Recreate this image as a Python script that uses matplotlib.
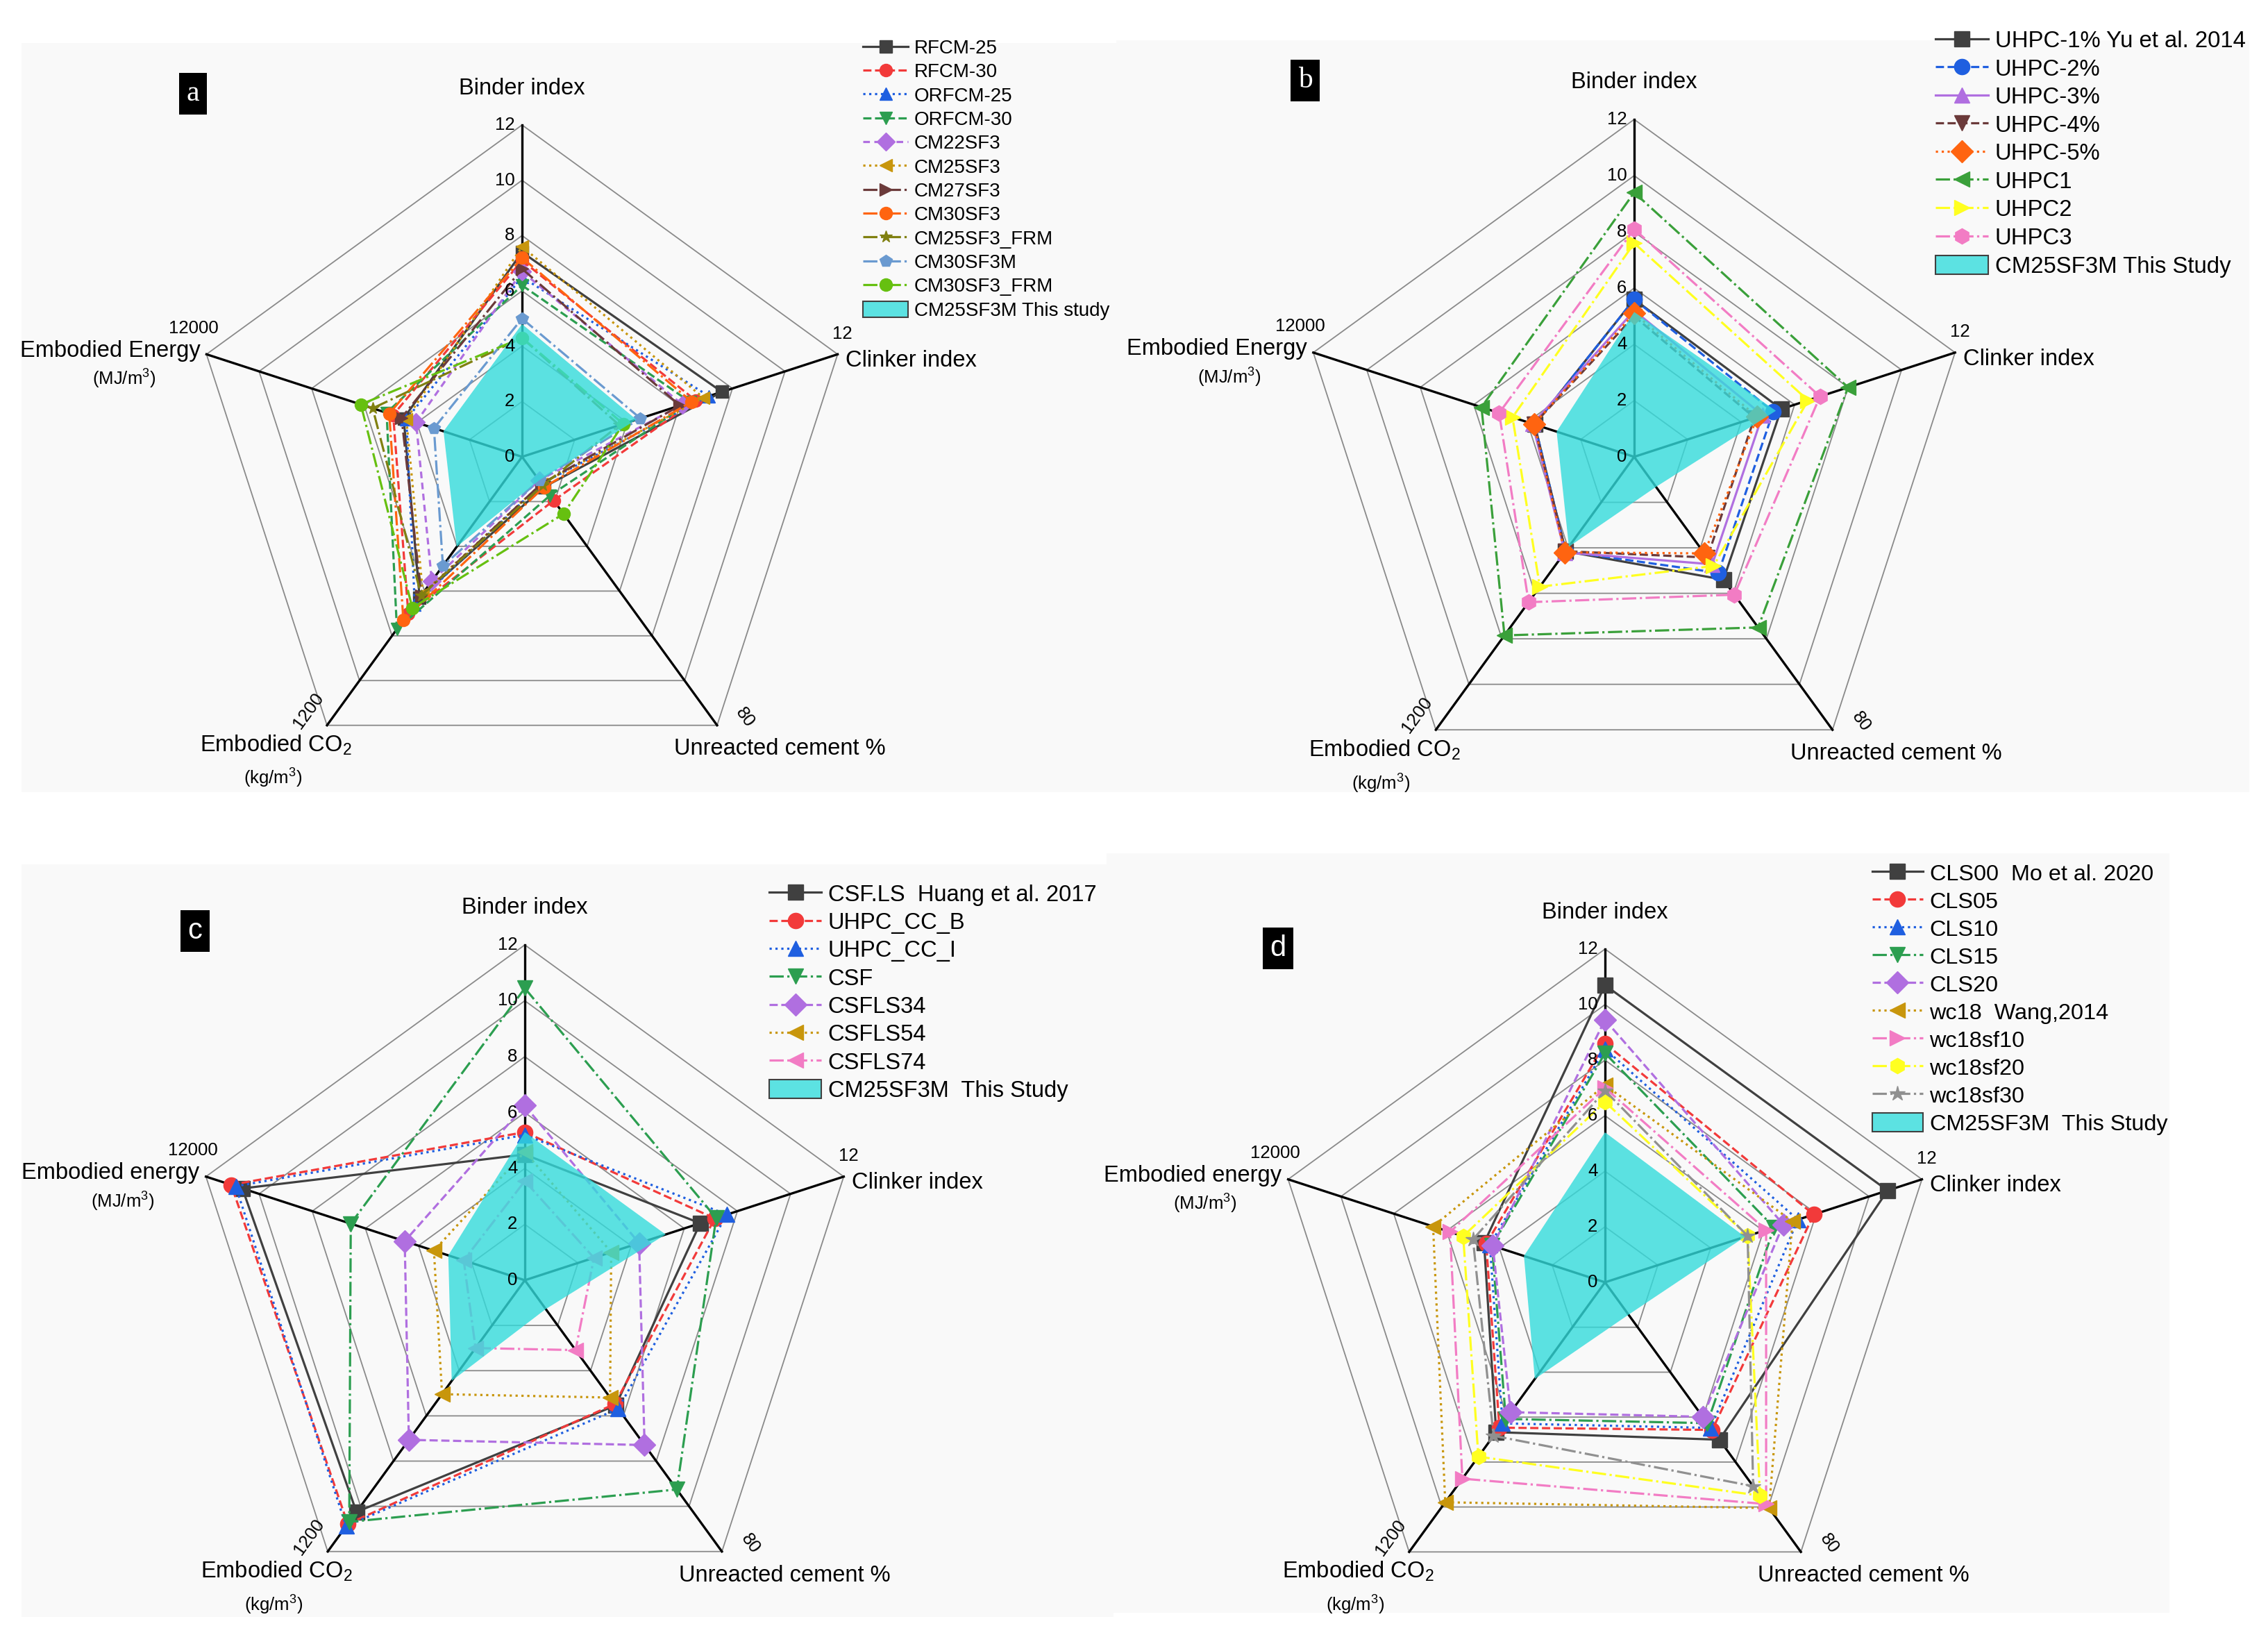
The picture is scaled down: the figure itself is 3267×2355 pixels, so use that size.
import numpy as np
import matplotlib
matplotlib.use('Agg')
import matplotlib.pyplot as plt
from matplotlib.lines import Line2D
from matplotlib.patches import Patch, Rectangle

plt.rcParams['font.family'] = 'Liberation Sans'
plt.rcParams['mathtext.fontset'] = 'custom'
plt.rcParams['mathtext.rm'] = 'Liberation Sans'
plt.rcParams['mathtext.it'] = 'Liberation Sans:italic'

W, H = 3267, 2355

# axis order: Binder index, Clinker index, Unreacted cement %, Embodied CO2, Embodied energy
axis_max = np.array([12, 12, 80, 1200, 12000])
binder_ticks = [0, 2, 4, 6, 8, 10, 12]

# ---- panel a
a_names = ['RFCM-25', 'RFCM-30', 'ORFCM-25', 'ORFCM-30', 'CM22SF3', 'CM25SF3',
           'CM27SF3', 'CM30SF3', 'CM25SF3_FRM', 'CM30SF3M', 'CM30SF3_FRM']
a_values = [[7.4, 7.6, 9, 630, 4500],
            [7.1, 6.6, 13, 700, 4900],
            [6.5, 7.1, 8, 660, 4400],
            [6.2, 6.4, 11.5, 770, 5150],
            [6.7, 6.1, 7, 555, 4030],
            [7.6, 6.9, 8, 610, 4400],
            [6.8, 6.0, 8, 620, 4580],
            [7.2, 6.45, 9, 730, 5050],
            [4.3, 3.7, 8.5, 620, 5680],
            [5.0, 4.5, 7, 487, 3350],
            [4.3, 3.85, 17, 675, 6130]]
a_study = [4.8, 4.35, 7, 402, 2985]
a_study_label = 'CM25SF3M This study'

# ---- panel b
b_names = ['UHPC-1% Yu et al. 2014', 'UHPC-2%', 'UHPC-3%', 'UHPC-4%', 'UHPC-5%',
           'UHPC1', 'UHPC2', 'UHPC3']
b_values = [[5.6, 5.5, 36, 415, 3720],
            [5.6, 5.2, 34, 415, 3720],
            [5.2, 4.8, 31.5, 420, 3800],
            [5.0, 4.5, 29.5, 415, 3750],
            [5.1, 4.6, 28.3, 420, 3750],
            [9.4, 8.0, 50, 785, 5710],
            [7.6, 6.5, 32, 571, 4550],
            [8.1, 6.95, 40.4, 639, 5050]]
b_study = [5.15, 5.3, 8.8, 395, 2900]
b_study_label = 'CM25SF3M This Study'

# ---- panel c
c_names = ['CSF.LS  Huang et al. 2017', 'UHPC_CC_B', 'UHPC_CC_I', 'CSF',
           'CSFLS34', 'CSFLS54', 'CSFLS74']
c_values = [[4.5, 6.6, 36.9, 1025, 10630],
            [5.3, 7.15, 36.5, 1078, 11050],
            [5.2, 7.6, 37.9, 1088, 10880],
            [10.45, 7.2, 61.7, 1069, 6550],
            [6.25, 4.3, 48.6, 706, 4520],
            [4.6, 3.25, 34.6, 504, 3420],
            [3.55, 2.6, 20.6, 300, 2300]]
c_study = [5.3, 5.3, 8.5, 445, 2880]
c_study_label = 'CM25SF3M  This Study'

# ---- panel d
d_names = ['CLS00  Mo et al. 2020', 'CLS05', 'CLS10', 'CLS15', 'CLS20',
           'wc18  Wang,2014', 'wc18sf10', 'wc18sf20', 'wc18sf30']
d_values = [[10.7, 10.7, 46.7, 667, 4580],
            [8.6, 7.9, 43.8, 647, 4500],
            [8.4, 7.3, 43.2, 628, 4360],
            [8.25, 6.4, 41.8, 608, 4280],
            [9.45, 6.75, 39.9, 578, 4250],
            [7.1, 7.1, 67, 979, 6510],
            [7.0, 6.1, 65.8, 874, 5870],
            [6.5, 5.4, 63.3, 776, 5370],
            [6.9, 5.4, 60.5, 683, 5000]]
d_study = [5.4, 5.3, 9.6, 430, 3070]
d_study_label = 'CM25SF3M  This Study'

# styles
GREY, RED, BLUE, GREEN = '#404040', '#f23a3a', '#1f5fe0', '#2c9e50'
PURPLE, GOLD, BROWN, ORANGE = '#b06fe0', '#c8960c', '#6b3a3a', '#ff6410'
a_colors = [GREY, RED, BLUE, GREEN, PURPLE, GOLD, BROWN, ORANGE, '#808010', '#6a9ad0', '#66c010']
a_markers = ['s', 'o', '^', 'v', 'D', '<', '>', 'o', '*', 'p', 'o']
a_styles = ['-', '--', ':', '--', (0, (3, 2)), ':', '-.', '-.', '-.', '-.', '-.']

b_colors = [GREY, BLUE, PURPLE, BROWN, ORANGE, '#3aa03a', '#ffff20', '#f27cc4']
b_markers = ['s', 'o', '^', 'v', 'D', '<', '>', 'h']
b_styles = ['-', '--', '-', '--', ':', '-.', '-.', '-.']

c_colors = [GREY, RED, BLUE, GREEN, PURPLE, GOLD, '#f27cc4']
c_markers = ['s', 'o', '^', 'v', 'D', '<', '<']
c_styles = ['-', '--', ':', '-.', '--', ':', '-.']

d_colors = [GREY, RED, BLUE, GREEN, PURPLE, GOLD, '#f27cc4', '#ffff20', '#909090']
d_markers = ['s', 'o', '^', 'v', 'D', '<', '>', 'h', '*']
d_styles = ['-', '--', ':', '-.', '--', ':', '-.', '-.', '-.']

theta = np.deg2rad([90, 18, -54, -126, 162])
CYAN = '#33dbdb'

fig = plt.figure(figsize=(W / 100, H / 100), dpi=100)
fig.patch.set_facecolor('white')

# light panel backgrounds
for (x0, y0, x1, y1) in [(31, 62, 1608, 1141), (1608, 58, 3240, 1141),
                         (31, 1245, 1604, 2329), (1594, 1229, 3125, 2323)]:
    fig.patches.append(Rectangle((x0 / W, 1 - y1 / H), (x1 - x0) / W, (y1 - y0) / H,
                                 transform=fig.transFigure, fc='#f9f9f9', ec='none', zorder=-5))


def radar_xy(vals):
    f = np.array(vals, float) / axis_max
    x = f * np.cos(theta)
    y = f * np.sin(theta)
    return np.append(x, x[0]), np.append(y, y[0])


def draw_panel(cx, cy, R, names, values, colors, markers, styles, study, study_label,
               energy_word, ms, leg_xy, leg_fs, leg_hl):
    ax = fig.add_axes([(cx - 1.05 * R) / W, 1 - (cy + 1.05 * R) / H, 2.1 * R / W, 2.1 * R / H])
    ax.set_xlim(-1.05, 1.05)
    ax.set_ylim(-1.05, 1.05)
    ax.axis('off')

    # grid rings and spokes
    for k in range(1, 7):
        r = k / 6
        px = np.append(r * np.cos(theta), r * np.cos(theta[0]))
        py = np.append(r * np.sin(theta), r * np.sin(theta[0]))
        ax.plot(px, py, color='#8a8a8a', lw=1.3, zorder=1)
    for t in theta:
        ax.plot([0, np.cos(t)], [0, np.sin(t)], color='black', lw=2.4, zorder=2)

    for vals, col, mk, ls in zip(values, colors, markers, styles):
        x, y = radar_xy(vals)
        ax.plot(x, y, color=col, ls=ls, lw=2.3, marker=mk, ms=ms, markevery=range(5), zorder=3)

    sx, sy = radar_xy(study)
    ax.fill(sx, sy, color=CYAN, alpha=0.8, lw=0, zorder=4)

    # labels
    fs = 23.5
    for v in binder_ticks:
        ax.text(-0.022, v / 12, str(v), ha='right', va='center', fontsize=18.5, zorder=6)
    ax.text(0, 1.11, 'Binder index', ha='center', va='center', fontsize=fs)
    ax.text(0.975, 0.29, 'Clinker index', ha='left', va='center', fontsize=fs)
    ax.text(0.965, 0.37, '12', ha='center', va='center', fontsize=18.5)
    ax.text(0.776, -0.88, 'Unreacted cement %', ha='center', va='center', fontsize=fs)
    ax.text(0.672, -0.785, '80', ha='center', va='center', fontsize=18.5,
            rotation=-54, rotation_mode='anchor')
    ax.text(-0.644, -0.765, '1200', ha='center', va='center', fontsize=18.5,
            rotation=54, rotation_mode='anchor')
    ax.text(-0.741, -0.868, 'Embodied CO$\\mathregular{_2}$', ha='center', va='center', fontsize=fs)
    ax.text(-0.75, -0.968, '(kg/m$\\mathregular{^3}$)', ha='center', va='center', fontsize=18.5)
    ax.text(-0.99, 0.387, '12000', ha='center', va='center', fontsize=18.5)
    ax.text(-0.97, 0.32, energy_word, ha='right', va='center', fontsize=fs)
    ax.text(-1.2, 0.235, '(MJ/m$\\mathregular{^3}$)', ha='center', va='center', fontsize=18.5)

    handles = [Line2D([], [], color=c, ls=s, marker=m, ms=ms, lw=2.3)
               for c, s, m in zip(colors, styles, markers)]
    handles.append(Patch(fc='#5ce2e2', ec='#404040', lw=1.5))
    fig.legend(handles, list(names) + [study_label], loc='upper left',
               bbox_to_anchor=(leg_xy[0] / W, 1 - leg_xy[1] / H), frameon=False,
               fontsize=leg_fs, handlelength=leg_hl, handletextpad=0.3, labelspacing=0.26,
               borderpad=0, borderaxespad=0, handleheight=0.9)


draw_panel(752, 658, 478, a_names, a_values, a_colors, a_markers, a_styles, a_study,
           a_study_label, 'Embodied Energy', 13, (1243, 56), 20, 2.35)
draw_panel(2354, 658, 486, b_names, b_values, b_colors, b_markers, b_styles, b_study,
           b_study_label, 'Embodied Energy', 16, (2788, 43), 23.7, 2.3)
draw_panel(756, 1844, 483, c_names, c_values, c_colors, c_markers, c_styles, c_study,
           c_study_label, 'Embodied energy', 16, (1108, 1273), 23.5, 2.3)
draw_panel(2312, 1847, 480, d_names, d_values, d_colors, d_markers, d_styles, d_study,
           d_study_label, 'Embodied energy', 16, (2697, 1243), 23.3, 2.25)

# panel tags
for tag, (tx, ty), fam in [('a', (278, 135), 'Liberation Serif'), ('b', (1880, 116), 'Liberation Serif'),
                           ('c', (281, 1341), 'Liberation Sans'), ('d', (1841, 1366), 'Liberation Sans')]:
    fig.text(tx / W, 1 - ty / H, tag, color='white', fontsize=30, family=fam,
             ha='center', va='center',
             bbox=dict(boxstyle='square,pad=0.25', fc='black', ec='none'))

fig.savefig('out.png', dpi=100, facecolor='white')
